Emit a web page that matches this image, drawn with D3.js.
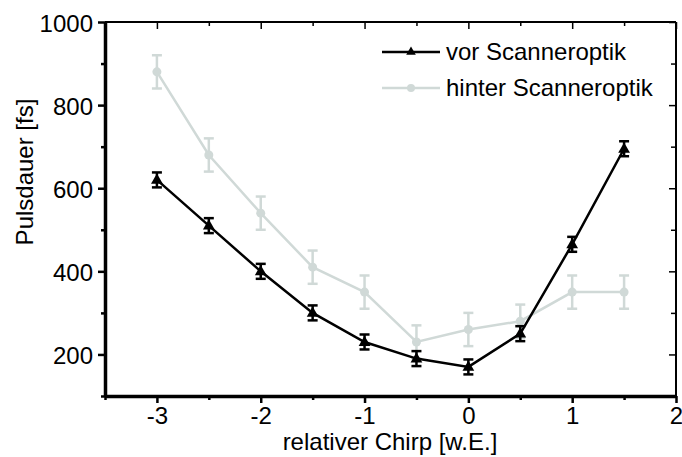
<!DOCTYPE html>
<html>
<head>
<meta charset="utf-8">
<script src="https://cdn.jsdelivr.net/npm/d3@7"></script>
<style>
  body { margin: 0; background: #fff; }
  text { font-family: "Liberation Sans", Arial, sans-serif; fill: #000; }
</style>
</head>
<body>
<div id="chart"></div>
<script>
// data
var chirp = [-3, -2.5, -2, -1.5, -1, -0.5, 0, 0.5, 1, 1.5];
var vorValues = [620, 510, 400, 300, 230, 190, 170, 250, 465, 695];
var vorErrors = [18, 18, 18, 18, 18, 18, 18, 18, 18, 18];
var hinterValues = [880, 680, 540, 410, 350, 230, 260, 280, 350, 350];
var hinterErrors = [40, 40, 40, 40, 40, 40, 40, 40, 40, 40];
var xTicks = [-3, -2, -1, 0, 1, 2];
var yTicks = [200, 400, 600, 800, 1000];
var seriesNames = ["vor Scanneroptik", "hinter Scanneroptik"];

var margin = { left: 105, right: 6, top: 22, bottom: 61 };
var width = 682 - margin.left - margin.right;
var height = 457 - margin.top - margin.bottom;

var svg = d3.select("#chart").append("svg")
    .attr("width", 682)
    .attr("height", 457);

var g = svg.append("g")
    .attr("transform", "translate(" + margin.left + "," + margin.top + ")");

var x = d3.scaleLinear().domain([-3.5, 2]).range([0, width]);
var y = d3.scaleLinear().domain([100, 1000]).range([height, 0]);

var grey = "#d0d9d7";
var fontSize = "24px";

function isMajor(v, list) { return list.indexOf(v) >= 0; }

// Axes: major + minor ticks
function drawAxes() {
    var xMinor = d3.range(-3.5, 2.01, 0.5);
    var yMinor = d3.range(100, 1001, 100);

    // bottom
    var bottom = g.append("g").attr("transform", "translate(0," + height + ")");
    bottom.call(d3.axisBottom(x).tickValues(xMinor).tickSizeOuter(0).tickFormat(""));
    bottom.selectAll(".tick line")
        .attr("y2", d => isMajor(d, xTicks) ? 7 : 4)
        .attr("stroke-width", 2.5);
    var bottomLab = g.append("g").attr("transform", "translate(0," + height + ")")
        .call(d3.axisBottom(x).tickValues(xTicks).tickSize(0).tickPadding(11));
    bottomLab.select(".domain").remove();
    bottomLab.selectAll("text").attr("font-size", fontSize)
        .text(function(d){ return String(d); });

    // left
    var left = g.append("g");
    left.call(d3.axisLeft(y).tickValues(yMinor).tickSizeOuter(0).tickFormat(""));
    left.selectAll(".tick line")
        .attr("x2", d => isMajor(d, yTicks) ? -7 : -4)
        .attr("stroke-width", 2.5);
    var leftLab = g.append("g")
        .call(d3.axisLeft(y).tickValues(yTicks).tickSize(0).tickPadding(12)
            .tickFormat(d3.format("d")));
    leftLab.select(".domain").remove();
    leftLab.selectAll("text").attr("font-size", fontSize).attr("dy", "0.38em");

    // top, ticks pointing inward
    var top = g.append("g");
    top.call(d3.axisTop(x).tickValues(xMinor).tickFormat(""));
    top.select(".domain").remove();
    top.selectAll(".tick line")
        .attr("y2", d => isMajor(d, xTicks) ? 7 : 4)
        .attr("stroke-width", 1.5);

    // right, ticks pointing inward
    var right = g.append("g").attr("transform", "translate(" + width + ",0)");
    right.call(d3.axisRight(y).tickValues(yMinor).tickFormat(""));
    right.select(".domain").remove();
    right.selectAll(".tick line")
        .attr("x2", d => isMajor(d, yTicks) ? -7 : -5)
        .attr("stroke-width", 1.5);

    // frame
    g.append("line").attr("x1", 0).attr("x2", width).attr("y1", 0).attr("y2", 0)
        .attr("stroke", "#000").attr("stroke-width", 2);
    g.append("line").attr("x1", width).attr("x2", width).attr("y1", 0).attr("y2", height)
        .attr("stroke", "#000").attr("stroke-width", 2);
    bottom.select(".domain").attr("stroke-width", 3.5);
    left.select(".domain").attr("stroke-width", 3.5);
}
drawAxes();

// Axis titles
g.append("text")
    .attr("x", 285)
    .attr("y", 428)
    .attr("font-size", fontSize)
    .attr("text-anchor", "middle")
    .text("relativer Chirp [w.E.]");

g.append("text")
    .attr("transform", "rotate(-90)")
    .attr("x", -150)
    .attr("y", -72)
    .attr("font-size", fontSize)
    .attr("text-anchor", "middle")
    .text("Pulsdauer [fs]");

var line = d3.line()
    .x(function(d){ return x(d.x); })
    .y(function(d){ return y(d.y); });

function makeData(values, errors) {
    return chirp.map(function(c, i){ return { x: c, y: values[i], e: errors[i] }; });
}

var triangle = d3.symbol().type(d3.symbolTriangle).size(60);

function drawSeries(data, color, errWidth, marker) {
    var s = g.append("g");
    s.append("path")
        .attr("fill", "none")
        .attr("stroke", color)
        .attr("stroke-width", 2.5)
        .attr("d", line(data));

    var eb = s.selectAll(".err").data(data).enter().append("g");
    eb.append("line")
        .attr("x1", d => x(d.x)).attr("x2", d => x(d.x))
        .attr("y1", d => y(d.y - d.e)).attr("y2", d => y(d.y + d.e))
        .attr("stroke", color).attr("stroke-width", errWidth);
    eb.append("line")
        .attr("x1", d => x(d.x) - 5).attr("x2", d => x(d.x) + 5)
        .attr("y1", d => y(d.y - d.e)).attr("y2", d => y(d.y - d.e))
        .attr("stroke", color).attr("stroke-width", errWidth);
    eb.append("line")
        .attr("x1", d => x(d.x) - 5).attr("x2", d => x(d.x) + 5)
        .attr("y1", d => y(d.y + d.e)).attr("y2", d => y(d.y + d.e))
        .attr("stroke", color).attr("stroke-width", errWidth);

    if (marker === "triangle") {
        s.selectAll(".pt").data(data).enter().append("path")
            .attr("d", triangle)
            .attr("transform", d => "translate(" + x(d.x) + "," + (y(d.y) + 0.5) + ")")
            .attr("fill", color);
    } else {
        s.selectAll(".pt").data(data).enter().append("circle")
            .attr("cx", d => x(d.x)).attr("cy", d => y(d.y))
            .attr("r", 4.5)
            .attr("fill", color);
    }
}

drawSeries(makeData(hinterValues, hinterErrors), grey, 2.5, "circle");
drawSeries(makeData(vorValues, vorErrors), "#000", 2.5, "triangle");

// Legend
var legend = svg.append("g");
var legendItems = [
    { name: seriesNames[0], color: "#000", marker: "triangle", y: 52 },
    { name: seriesNames[1], color: grey, marker: "circle", y: 88 }
];
legendItems.forEach(function(item){
    legend.append("line")
        .attr("x1", 382).attr("x2", 440)
        .attr("y1", item.y).attr("y2", item.y)
        .attr("stroke", item.color).attr("stroke-width", 2.5);
    if (item.marker === "triangle") {
        legend.append("path")
            .attr("d", d3.symbol().type(d3.symbolTriangle).size(40))
            .attr("transform", "translate(411," + item.y + ")")
            .attr("fill", item.color);
    } else {
        legend.append("circle")
            .attr("cx", 411).attr("cy", item.y).attr("r", 4)
            .attr("fill", item.color);
    }
    legend.append("text")
        .attr("x", 446).attr("y", item.y + 8)
        .attr("font-size", fontSize)
        .text(item.name);
});
</script>
</body>
</html>
